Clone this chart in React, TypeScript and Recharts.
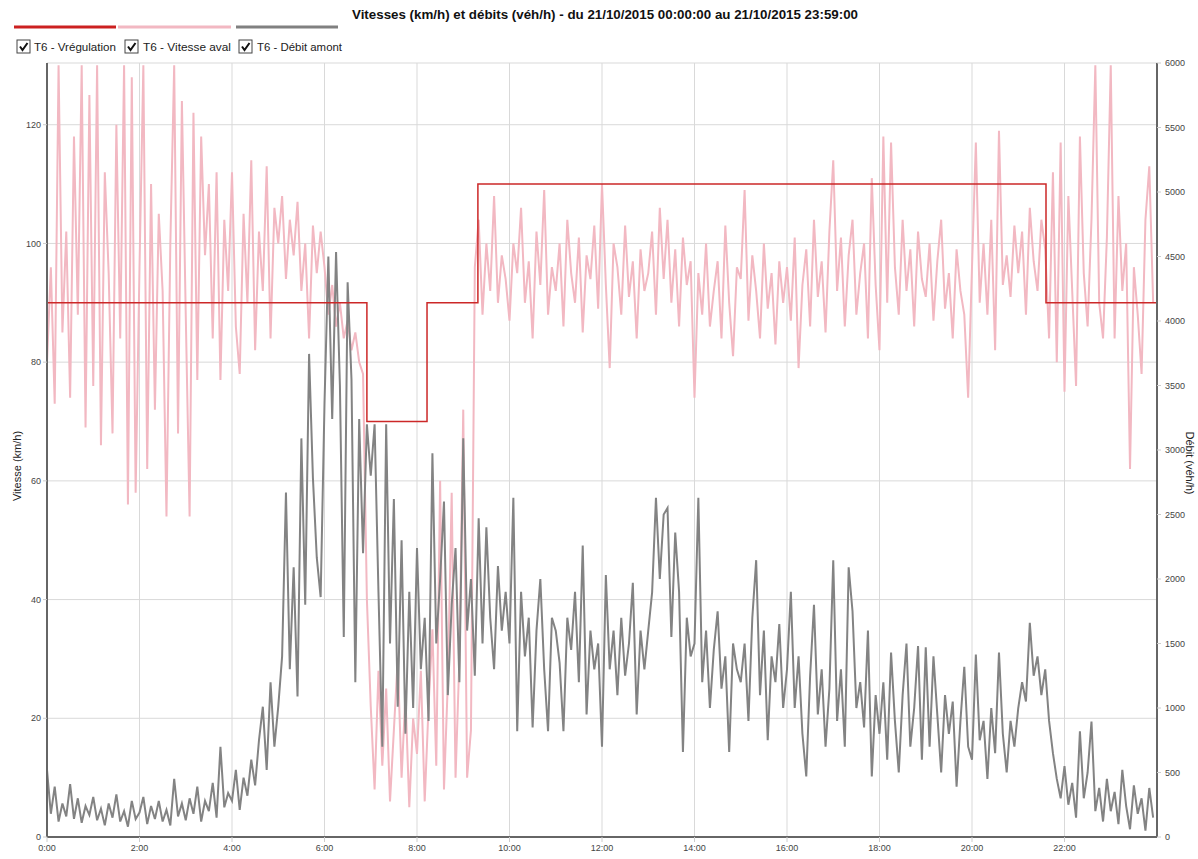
import React from 'react';
import { ComposedChart, Line, XAxis, YAxis, CartesianGrid } from 'recharts';

const STEP_MIN = 5;

// T6 - Vitesse aval (km/h), one value every 5 minutes, 00:00 -> 23:55
const vitesseAval = [
  80, 96, 73, 130, 85, 102, 74, 118, 88, 130, 69, 125,
  76, 130, 66, 112, 95, 68, 120, 84, 130, 56, 128, 58,
  96, 130, 62, 110, 72, 105, 92, 54, 100, 130, 68, 124,
  88, 54, 122, 77, 118, 98, 110, 84, 112, 77, 104, 92,
  112, 86, 78, 105, 90, 114, 82, 102, 92, 113, 84, 106,
  100, 108, 94, 104, 98, 107, 92, 100, 84, 103, 95, 102,
  96, 88, 93, 86, 90, 84, 87, 82, 85, 80, 78, 40,
  22, 8, 28, 12, 25, 6, 18, 30, 10, 24, 5, 20,
  14, 28, 6, 22, 35, 12, 60, 8, 26, 58, 10, 30,
  72, 10, 18, 96, 104, 88, 100, 92, 108, 90, 98, 94,
  87, 100, 95, 106, 90, 97, 84, 102, 93, 109, 88, 96,
  92, 100, 86, 104, 95, 90, 101, 85, 98, 94, 103, 89,
  110, 93, 79, 100, 96, 88, 103, 91, 97, 84, 99, 92,
  95, 102, 88, 106, 94, 104, 90, 99, 86, 101, 93, 97,
  74, 95, 88, 100, 86, 92, 97, 84, 103, 90, 81, 96,
  94, 109, 87, 98, 92, 84, 100, 89, 95, 83, 97, 90,
  96, 87, 101, 79, 93, 99, 86, 104, 91, 97, 85, 102,
  114, 92, 101, 86, 98, 104, 88, 95, 100, 84, 111, 93,
  82, 118, 90, 117, 96, 88, 104, 92, 99, 86, 102, 94,
  91, 100, 87, 97, 104, 89, 95, 84, 99, 92, 88, 74,
  96, 117, 90, 100, 88, 104, 82, 119, 93, 98, 91, 103,
  95, 102, 88, 106, 97, 92, 104, 99, 84, 112, 80, 117,
  75, 108, 92, 76, 118, 95, 86, 104, 130, 90, 84, 101,
  130, 84, 108, 92, 100, 62, 96, 88, 78, 104, 113, 90,
];

// T6 - Débit amont (véh/h), one value every 5 minutes, 00:00 -> 23:55
const debitAmont = [
  520, 180, 390, 120, 260, 160, 410, 140, 300, 110, 240, 170,
  310, 130, 220, 90, 260, 150, 330, 120, 200, 80, 280, 140,
  190, 310, 100, 240, 140, 280, 120, 210, 90, 450, 160, 260,
  130, 300, 180, 390, 120, 280, 200, 420, 150, 700, 230, 340,
  280, 520, 210, 460, 320, 600, 400, 750, 1010, 520, 1200, 700,
  1010, 1400, 2670, 1300, 2090, 1090, 3090, 1800, 3745, 2780, 2165, 1860,
  3360, 4500, 3240, 4535, 3500, 1550, 4300, 3550, 1200, 3240, 2200, 3200,
  2800, 3200, 1900, 700, 3200, 1500, 2620, 1010, 2300, 800, 1900, 1000,
  2240, 1300, 1700, 900, 2975, 1500, 2000, 2600, 1100, 1800, 2240, 1200,
  3090, 1600, 2000, 1250, 2470, 1500, 2400, 1700, 1300, 2100, 1600, 1900,
  1500, 2630, 820, 1900, 1400, 1700, 850, 1600, 2000, 1300, 820, 1700,
  1600, 1350, 820, 1700, 1450, 1900, 1200, 2260, 950, 1600, 1300, 1500,
  700, 2030, 1300, 1600, 1100, 1700, 1250, 1500, 1970, 950, 1600, 1300,
  1600, 1895, 2630, 2000, 2500, 2550, 1550, 2360, 1900, 660, 1700, 1400,
  1500, 2630, 1200, 1600, 1000, 1450, 1750, 1150, 1400, 660, 1500, 1300,
  1200, 1500, 900, 1700, 2146, 1100, 1600, 750, 1400, 1200, 1650, 1000,
  1300, 1900, 1000, 1400, 800, 470, 1250, 1800, 950, 1300, 700, 1150,
  2146, 900, 1300, 700, 2090, 1750, 1000, 1200, 850, 1600, 470, 1100,
  800, 1200, 600, 1430, 900, 500, 1100, 1500, 700, 1000, 1480, 600,
  1470, 700, 1400, 950, 500, 1100, 800, 1050, 390, 900, 1320, 700,
  600, 1415, 750, 900, 450, 1000, 650, 1430, 800, 500, 900, 700,
  1000, 1200, 1050, 1660, 1250, 1400, 1100, 1300, 900, 650, 450, 300,
  550, 250, 420, 150, 820, 300, 500, 895, 200, 380, 120, 450,
  200, 350, 100, 520, 240, 60, 400, 180, 300, 50, 380, 150,
];

// T6 - Vrégulation : change times (minutes) and set values (km/h)
const regulationTimes = [0, 415, 493, 559, 1296, 1439];
const regulationValues = [90, 70, 90, 110, 90, 90];

const timeTicks = [0, 120, 240, 360, 480, 600, 720, 840, 960, 1080, 1200, 1320];
const timeLabels = ['0:00', '2:00', '4:00', '6:00', '8:00', '10:00', '12:00', '14:00', '16:00', '18:00', '20:00', '22:00'];
const speedTicks = [0, 20, 40, 60, 80, 100, 120];
const flowTicks = [0, 500, 1000, 1500, 2000, 2500, 3000, 3500, 4000, 4500, 5000, 5500, 6000];

const TITLE = 'Vitesses (km/h) et débits (véh/h) - du 21/10/2015 00:00:00 au 21/10/2015 23:59:00';
const legendItems = [
  { name: 'T6 - Vrégulation', color: '#cc2020' },
  { name: 'T6 - Vitesse aval', color: '#f2b8c2' },
  { name: 'T6 - Débit amont', color: '#808080' },
];

const data = vitesseAval.map((v, i) => ({ t: i * STEP_MIN, vit: v, deb: debitAmont[i] }));
const regData = regulationTimes.map((t, i) => ({ t, reg: regulationValues[i] }));

const FONT = '"Liberation Sans", Arial, sans-serif';
const tickStyle = { fontSize: 9, fill: '#444', fontFamily: FONT };

const legendLayout = [
  { lineX1: 14, lineX2: 116, boxX: 17, textX: 34, textW: 82 },
  { lineX1: 118, lineX2: 231, boxX: 125, textX: 143, textW: 88 },
  { lineX1: 236, lineX2: 338, boxX: 239, textX: 257, textW: 85 },
];

export default function App() {
  return (
    <div style={{ position: 'absolute', left: 0, top: 0, width: 1198, height: 859, background: '#fff' }}>
      <ComposedChart
        width={1198}
        height={859}
        data={data}
        margin={{ top: 63, right: 0, bottom: 0, left: 0 }}
      >
        <CartesianGrid xAxisId="t" yAxisId="L" stroke="#d9d9d9" strokeWidth={1} />
        <XAxis
          xAxisId="t"
          dataKey="t"
          type="number"
          domain={[0, 1440]}
          ticks={timeTicks}
          tickFormatter={(v: number) => timeLabels[timeTicks.indexOf(v)] ?? ''}
          height={22}
          tick={tickStyle}
          tickSize={5}
          tickMargin={3}
          tickLine={{ stroke: '#ccc' }}
          axisLine={{ stroke: '#666', strokeWidth: 2 }}
          allowDataOverflow
        />
        <XAxis
          xAxisId="top"
          orientation="top"
          dataKey="t"
          type="number"
          domain={[0, 1440]}
          height={0}
          tick={false}
          tickLine={false}
          axisLine={{ stroke: '#666', strokeWidth: 2 }}
        />
        <YAxis
          yAxisId="L"
          orientation="left"
          width={47}
          domain={[0, 130.4]}
          ticks={speedTicks}
          tick={tickStyle}
          tickSize={4}
          tickMargin={2}
          tickLine={{ stroke: '#ccc' }}
          axisLine={{ stroke: '#666', strokeWidth: 2 }}
          allowDataOverflow
        />
        <YAxis
          yAxisId="R"
          orientation="right"
          width={41}
          domain={[0, 6000]}
          ticks={flowTicks}
          tick={tickStyle}
          tickSize={4}
          tickMargin={4}
          tickLine={{ stroke: '#ccc' }}
          axisLine={{ stroke: '#666', strokeWidth: 2 }}
          allowDataOverflow
        />
        <Line
          xAxisId="t"
          yAxisId="L"
          dataKey="vit"
          type="linear"
          stroke="#f2b8c2"
          strokeWidth={2}
          dot={false}
          activeDot={false}
          isAnimationActive={false}
        />
        <Line
          xAxisId="t"
          yAxisId="R"
          dataKey="deb"
          type="linear"
          stroke="#838383"
          strokeWidth={2}
          dot={false}
          activeDot={false}
          isAnimationActive={false}
        />
        <Line
          xAxisId="t"
          yAxisId="L"
          data={regData}
          dataKey="reg"
          type="stepAfter"
          stroke="#cc2828"
          strokeWidth={1.5}
          dot={false}
          activeDot={false}
          isAnimationActive={false}
        />
      </ComposedChart>
      <svg
        width={1198}
        height={859}
        style={{ position: 'absolute', left: 0, top: 0, pointerEvents: 'none' }}
      >
        <text
          x={605}
          y={19}
          textAnchor="middle"
          fontFamily={FONT}
          fontWeight="bold"
          fontSize={12}
          textLength={506}
          lengthAdjust="spacingAndGlyphs"
          fill="#111"
        >
          {TITLE}
        </text>
        {legendItems.map((it, i) => {
          const L = legendLayout[i];
          return (
            <g key={it.name}>
              <line x1={L.lineX1} x2={L.lineX2} y1={27} y2={27} stroke={it.color} strokeWidth={3} />
              <rect x={L.boxX} y={40} width={13} height={13} fill="#fff" stroke="#444" strokeWidth={1} />
              <path
                d={`M${L.boxX + 3} ${46.5} L${L.boxX + 5.5} ${50} L${L.boxX + 10.5} ${43}`}
                fill="none"
                stroke="#111"
                strokeWidth={2}
              />
              <text
                x={L.textX}
                y={51}
                fontFamily={FONT}
                fontSize={11}
                textLength={L.textW}
                lengthAdjust="spacingAndGlyphs"
                fill="#222"
              >
                {it.name}
              </text>
            </g>
          );
        })}
        <text
          transform="translate(21,466) rotate(-90)"
          textAnchor="middle"
          fontFamily={FONT}
          fontSize={11}
          fill="#222"
        >
          Vitesse (km/h)
        </text>
        <text
          transform="translate(1186,463) rotate(90)"
          textAnchor="middle"
          fontFamily={FONT}
          fontSize={11}
          fill="#222"
        >
          Débit (véh/h)
        </text>
      </svg>
    </div>
  );
}
